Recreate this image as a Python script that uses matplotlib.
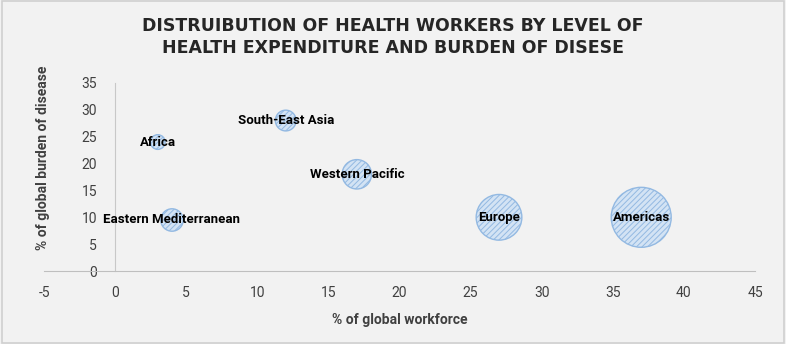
import matplotlib.pyplot as plt
from matplotlib.patches import Rectangle

plt.rcParams['font.family'] = ['Roboto', 'DejaVu Sans']
plt.rcParams['axes.unicode_minus'] = False
plt.rcParams['hatch.linewidth'] = 0.7

regions = ['Africa', 'South-East Asia', 'Western Pacific', 'Eastern Mediterranean', 'Europe', 'Americas']
workforce = [3, 12, 17, 4, 27, 37]
burden = [24, 28, 18, 9.5, 10, 10]
expenditure = [3, 6, 12, 7, 29, 50]

fig = plt.figure(figsize=(7.86, 3.44), dpi=100, facecolor='#F2F2F2')
ax = fig.add_axes([0.056, 0.212, 0.9045, 0.547])
ax.set_facecolor('#F2F2F2')

sizes = [v * 37.3 for v in expenditure]
ax.scatter(workforce, burden, s=sizes, facecolor='#D3E3F4', edgecolor='#93B9E2',
           hatch='//////', linewidth=1.0, zorder=3)

for name, x, y in zip(regions, workforce, burden):
    ax.text(x, y, name, ha='center', va='center', fontsize=9.5, fontweight='bold',
            color='black', zorder=4)

ax.set_xlim(-5, 45)
ax.set_ylim(0, 35)
ax.set_xticks(range(-5, 46, 5))
ax.set_yticks(range(0, 36, 5))

ax.spines['top'].set_visible(False)
ax.spines['right'].set_visible(False)
ax.spines['left'].set_position(('data', 0))
ax.spines['left'].set_color('#C8C8C8')
ax.spines['bottom'].set_color('#BFBFBF')
ax.tick_params(axis='x', length=0, pad=11, labelsize=10, colors='#404040')
ax.tick_params(axis='y', length=0, pad=13, labelsize=10, labelcolor='#404040')

ax.set_xlabel('% of global workforce', fontsize=10, fontweight='bold', color='#404040', labelpad=9)
ax.set_ylabel('% of global burden of disease', fontsize=10, fontweight='bold', color='#404040')
ax.yaxis.set_label_coords(0.008, 0.6)

fig.suptitle('DISTRUIBUTION OF HEALTH WORKERS BY LEVEL OF\nHEALTH EXPENDITURE AND BURDEN OF DISESE',
             y=0.95, fontsize=12.5, fontweight='bold', color='#262626', linespacing=1.3,
             family='DejaVu Sans')

fig.patches.append(Rectangle((0.002, 0.003), 0.996, 0.994, transform=fig.transFigure,
                             fill=False, edgecolor='#D0D0D0', linewidth=1.2))

fig.savefig('out.png', dpi=100, facecolor=fig.get_facecolor())
